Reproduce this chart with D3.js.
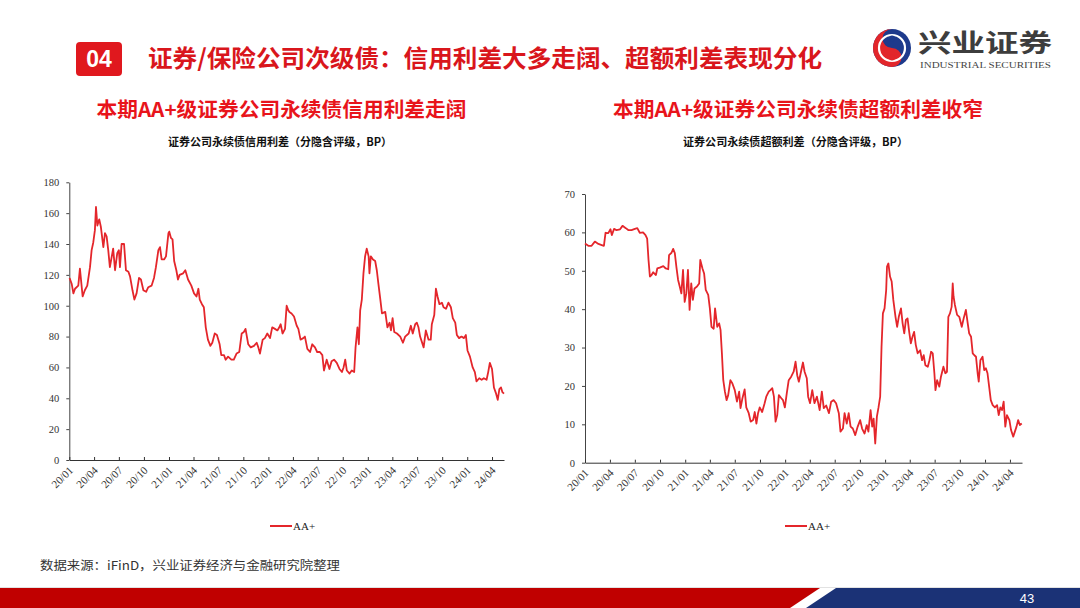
<!DOCTYPE html>
<html><head><meta charset="utf-8">
<script src="https://cdn.jsdelivr.net/npm/d3@7"></script>
<style>body{margin:0;background:#fff;} svg{display:block}</style>
</head><body><svg id="c" width="1080" height="608"></svg>
<script>
// ---------------- data ----------------
const xTickLabels = ['20/01','20/04','20/07','20/10','21/01','21/04','21/07','21/10','22/01','22/04','22/07','22/10','23/01','23/04','23/07','23/10','24/01','24/04'];
const leftYTicks = [0,20,40,60,80,100,120,140,160,180];
const rightYTicks = [0,10,20,30,40,50,60,70];
const seriesName = 'AA+';

const leftDates = ['2020-01-02','2020-01-10','2020-01-16','2020-01-22','2020-02-03','2020-02-09','2020-02-19','2020-02-27','2020-03-07','2020-03-17','2020-03-23','2020-03-29','2020-04-04','2020-04-08','2020-04-13','2020-04-20','2020-04-26','2020-05-05','2020-05-11','2020-05-17','2020-05-23','2020-05-29','2020-06-04','2020-06-10','2020-06-17','2020-06-25','2020-07-01','2020-07-05','2020-07-11','2020-07-20','2020-07-27','2020-08-05','2020-08-11','2020-08-20','2020-08-27','2020-09-04','2020-09-13','2020-09-20','2020-09-29','2020-10-09','2020-10-17','2020-10-29','2020-11-07','2020-11-14','2020-11-23','2020-11-29','2020-12-05','2020-12-14','2020-12-21','2020-12-30','2021-01-02','2021-01-08','2021-01-14','2021-01-20','2021-01-28','2021-02-03','2021-02-09','2021-02-22','2021-03-02','2021-03-12','2021-03-24','2021-04-03','2021-04-12','2021-04-19','2021-04-24','2021-05-02','2021-05-09','2021-05-16','2021-05-24','2021-06-02','2021-06-09','2021-06-18','2021-06-26','2021-07-06','2021-07-12','2021-07-22','2021-07-28','2021-08-06','2021-08-18','2021-08-27','2021-09-06','2021-09-16','2021-09-25','2021-10-03','2021-10-09','2021-10-19','2021-10-28','2021-11-09','2021-11-19','2021-11-25','2021-12-01','2021-12-11','2021-12-19','2021-12-28','2022-01-07','2022-01-15','2022-01-25','2022-02-03','2022-02-10','2022-02-15','2022-02-22','2022-03-03','2022-03-09','2022-03-15','2022-03-19','2022-03-27','2022-04-05','2022-04-15','2022-04-21','2022-04-29','2022-05-09','2022-05-15','2022-05-24','2022-06-03','2022-06-11','2022-06-21','2022-06-29','2022-07-09','2022-07-18','2022-07-24','2022-08-03','2022-08-13','2022-08-21','2022-08-30','2022-09-09','2022-09-19','2022-09-28','2022-10-04','2022-10-10','2022-10-16','2022-10-26','2022-11-03','2022-11-12','2022-11-17','2022-11-24','2022-11-29','2022-12-04','2022-12-10','2022-12-16','2022-12-22','2022-12-28','2023-01-04','2023-01-07','2023-01-12','2023-01-20','2023-01-28','2023-02-03','2023-02-09','2023-02-16','2023-02-22','2023-03-06','2023-03-14','2023-03-22','2023-03-27','2023-04-02','2023-04-08','2023-04-18','2023-04-30','2023-05-10','2023-05-18','2023-05-31','2023-06-08','2023-06-15','2023-06-24','2023-06-30','2023-07-06','2023-07-12','2023-07-25','2023-08-02','2023-08-12','2023-08-20','2023-08-24','2023-09-02','2023-09-08','2023-09-14','2023-09-21','2023-09-30','2023-10-06','2023-10-15','2023-10-24','2023-11-02','2023-11-09','2023-11-18','2023-11-24','2023-12-02','2023-12-11','2023-12-20','2023-12-27','2024-01-02','2024-01-11','2024-01-21','2024-01-29','2024-02-04','2024-02-14','2024-02-23','2024-03-02','2024-03-12','2024-03-18','2024-03-24','2024-04-01','2024-04-08','2024-04-16','2024-04-22','2024-04-28','2024-05-04','2024-05-09','2024-05-15'];
const leftValues = [118,114,108,111,113,124,106,110,113,125,136,141,149,164,152,156,151,138,147,145,136,125,131,137,123,134,136,125,140,140,123,122,119,110,104,108,118,117,110,109,112,113,118,125,136,138,130,130,132,147,148,144,143,129,123,117,120,121,123,117,113,108,106,111,104,101,99,86,78,74,76,82,81,75,68,68,65,67,65,65,69,70,82,83,85,75,73,74,76,73,69,78,79,82,79,86,85,84,86,88,82,85,100,97,96,95,93,87,85,78,79,80,72,70,75,73,70,70,68,58,65,59,64,65,63,59,57,60,65,58,56,58,57,73,86,75,97,104,121,132,137,132,121,132,130,129,123,114,104,95,96,86,89,84,92,83,82,80,76,80,82,87,82,88,89,86,80,73,84,78,78,88,94,111,106,101,102,99,98,102,99,92,89,81,79,80,79,81,71,67,60,57,51,53,52,53,52,57,63,59,47,43,39,46,47,44,43];

const rightDates = ['2020-01-01','2020-01-13','2020-01-25','2020-02-06','2020-02-19','2020-03-02','2020-03-10','2020-03-16','2020-03-26','2020-04-03','2020-04-08','2020-04-16','2020-04-25','2020-05-08','2020-05-17','2020-05-29','2020-06-07','2020-06-19','2020-07-01','2020-07-10','2020-07-19','2020-07-31','2020-08-09','2020-08-15','2020-08-20','2020-08-25','2020-08-31','2020-09-06','2020-09-16','2020-09-21','2020-09-30','2020-10-13','2020-10-22','2020-10-31','2020-11-03','2020-11-12','2020-11-18','2020-11-24','2020-11-30','2020-12-06','2020-12-12','2020-12-18','2020-12-24','2020-12-30','2021-01-05','2021-01-11','2021-01-17','2021-01-23','2021-01-29','2021-02-04','2021-02-13','2021-02-21','2021-02-25','2021-03-05','2021-03-11','2021-03-17','2021-03-26','2021-04-01','2021-04-07','2021-04-15','2021-04-20','2021-04-28','2021-05-05','2021-05-10','2021-05-15','2021-05-20','2021-05-26','2021-06-01','2021-06-07','2021-06-15','2021-06-22','2021-07-01','2021-07-09','2021-07-17','2021-07-22','2021-07-29','2021-08-06','2021-08-12','2021-08-21','2021-08-28','2021-09-06','2021-09-12','2021-09-18','2021-09-24','2021-09-30','2021-10-09','2021-10-18','2021-10-24','2021-11-02','2021-11-08','2021-11-15','2021-11-21','2021-11-27','2021-12-03','2021-12-09','2021-12-18','2021-12-24','2021-12-31','2022-01-07','2022-01-14','2022-01-23','2022-02-01','2022-02-08','2022-02-14','2022-02-20','2022-03-07','2022-03-13','2022-03-21','2022-03-26','2022-04-02','2022-04-10','2022-04-18','2022-04-27','2022-05-07','2022-05-15','2022-05-22','2022-05-31','2022-06-10','2022-06-18','2022-06-27','2022-07-06','2022-07-16','2022-07-22','2022-07-31','2022-08-06','2022-08-14','2022-08-21','2022-08-28','2022-09-05','2022-09-14','2022-09-23','2022-10-02','2022-10-09','2022-10-18','2022-10-26','2022-11-01','2022-11-09','2022-11-15','2022-11-20','2022-11-26','2022-12-02','2022-12-08','2022-12-14','2022-12-19','2022-12-24','2022-12-30','2023-01-05','2023-01-08','2023-01-13','2023-01-19','2023-01-25','2023-01-31','2023-02-08','2023-02-14','2023-02-20','2023-02-28','2023-03-06','2023-03-12','2023-03-18','2023-03-24','2023-03-30','2023-04-05','2023-04-11','2023-04-17','2023-04-23','2023-04-30','2023-05-09','2023-05-16','2023-05-22','2023-05-28','2023-06-06','2023-06-12','2023-06-18','2023-06-24','2023-06-30','2023-07-04','2023-07-10','2023-07-18','2023-07-24','2023-08-02','2023-08-09','2023-08-15','2023-08-20','2023-08-26','2023-09-01','2023-09-05','2023-09-08','2023-09-13','2023-09-21','2023-09-29','2023-10-08','2023-10-15','2023-10-23','2023-10-29','2023-11-04','2023-11-11','2023-11-17','2023-11-23','2023-11-29','2023-12-05','2023-12-09','2023-12-15','2023-12-23','2023-12-29','2024-01-04','2024-01-10','2024-01-16','2024-01-22','2024-01-29','2024-02-06','2024-02-14','2024-02-20','2024-02-26','2024-03-03','2024-03-09','2024-03-15','2024-03-21','2024-03-30','2024-04-05','2024-04-13','2024-04-19','2024-04-25','2024-05-01','2024-05-07','2024-05-14'];
const rightValues = [57.1,56.5,56.5,57.6,57.0,56.7,56.5,59.9,59.8,60.8,59.3,60.9,60.6,60.8,61.7,61.1,60.6,60.6,60.9,61.1,59.9,60.0,59.3,58.4,52.8,48.5,48.9,49.6,48.9,50.6,50.8,51.2,50.6,50.4,54.1,54.7,55.7,54.6,50.9,47.6,45.9,44.1,50.2,41.9,44.1,50.2,39.8,46.7,42.4,45.4,45.9,46.7,52.8,50.6,49.3,45.0,43.7,40.2,35.4,34.9,40.2,35.4,36.3,34.6,28.5,21.5,18.5,16.3,17.6,21.5,20.7,18.9,15.9,18.5,14.2,16.8,19.1,14.4,12.9,10.7,11.1,13.2,10.2,12.9,14.4,13.2,15.5,17.2,18.5,18.9,19.4,17.2,10.7,12.4,17.6,16.8,16.3,14.4,18.1,21.5,22.4,23.7,26.3,22.8,21.1,26.1,23.7,22.0,17.2,15.5,18.9,15.5,17.2,13.7,18.5,14.2,14.9,12.9,15.9,16.3,15.5,12.9,8.1,8.9,12.9,10.2,12.9,9.4,8.9,7.2,9.4,11.1,8.9,7.6,9.8,8.1,13.7,9.4,11.5,5.0,12.0,14.4,17.2,30.2,38.9,40.2,45.0,51.1,51.9,48.5,47.2,42.4,38.0,35.4,38.0,40.2,36.3,33.7,37.2,37.6,34.1,31.1,32.8,34.1,30.7,28.5,29.3,26.7,28.0,25.4,25.0,26.7,28.9,28.5,23.3,18.9,21.5,19.8,22.4,25.0,23.3,23.7,38.0,38.9,40.6,46.7,43.3,41.1,38.5,38.0,35.4,37.6,39.8,36.7,33.7,32.8,28.5,28.0,27.6,23.3,21.1,26.7,27.6,24.1,24.6,23.3,19.8,16.3,15.0,14.4,15.0,12.4,14.4,13.7,15.9,9.4,12.4,11.1,8.5,6.8,8.1,9.4,11.1,9.8,10.2];

// ---------------- drawing ----------------
const svg = d3.select('#c');
const RED = '#e4262b';
const parseDay = d3.timeParse('%Y-%m-%d');
const parseTick = d3.timeParse('%y/%m');
const tickDates = xTickLabels.map(parseTick);
const domainX = [new Date(2020,0,1), new Date(2024,4,15)];
const SERIF = '"Liberation Serif","Times New Roman",serif';
const CJK = '"Noto Sans CJK SC","Noto Sans",sans-serif';

function drawChart(o) {
  const x = d3.scaleTime().domain(domainX).range([o.x0, o.x1]);
  const y = d3.scaleLinear().domain([0, o.yMax]).range([o.y0, o.y1]);
  const g = svg.append('g');

  const ya = g.append('g').attr('transform', `translate(${o.x0},0)`)
    .call(d3.axisLeft(y).tickValues(o.yTicks).tickSize(3).tickSizeOuter(0).tickPadding(7));
  ya.select('.domain').attr('stroke', '#444');
  ya.selectAll('.tick line').attr('stroke', '#444');
  ya.selectAll('text').attr('font-family', SERIF).attr('font-size', 10.5).attr('fill', '#333');

  const xa = g.append('g').attr('transform', `translate(0,${o.y0})`)
    .call(d3.axisBottom(x).tickValues(tickDates).tickSize(-3).tickSizeOuter(0)
      .tickFormat((d, i) => xTickLabels[i]));
  xa.select('.domain').attr('stroke', '#333');
  xa.selectAll('.tick line').attr('stroke', '#333');
  xa.selectAll('text').attr('y', null).attr('dy', null).attr('x', null)
    .attr('transform', 'translate(4,11) rotate(-45)')
    .style('text-anchor', 'end')
    .attr('font-family', SERIF).attr('font-size', 11).attr('fill', '#333');

  const data = o.dates.map((d, i) => ({date: parseDay(d), v: o.values[i]}));
  g.append('path').datum(data)
    .attr('fill', 'none').attr('stroke', RED).attr('stroke-width', 1.8)
    .attr('stroke-linejoin', 'round')
    .attr('d', d3.line().x(d => x(d.date)).y(d => y(d.v)));

  // legend
  g.append('line').attr('x1', o.legendX).attr('x2', o.legendX + 22)
    .attr('y1', 526).attr('y2', 526).attr('stroke', RED).attr('stroke-width', 2);
  g.append('text').attr('x', o.legendX + 23).attr('y', 530)
    .attr('font-family', SERIF).attr('font-size', 11).attr('fill', '#222').text(seriesName);

  // titles
  g.append('text').attr('x', o.tcx).attr('y', 117).attr('text-anchor', 'middle')
    .attr('font-family', CJK).attr('font-weight', 700).attr('font-size', 20).attr('fill', '#e8141b')
    .attr('textLength', o.tw).attr('lengthAdjust', 'spacingAndGlyphs').text(o.title);
  g.append('text').attr('x', o.scx).attr('y', 146).attr('text-anchor', 'middle')
    .attr('font-family', CJK).attr('font-weight', 700).attr('font-size', 11).attr('fill', '#111')
    .attr('textLength', o.sw).attr('lengthAdjust', 'spacingAndGlyphs').text(o.sub);
}

drawChart({x0: 69.3, x1: 504, y0: 460, y1: 182.3, yMax: 180, yTicks: leftYTicks,
  dates: leftDates, values: leftValues, legendX: 270,
  tcx: 281.5, tw: 370, title: '本期AA+级证券公司永续债信用利差走阔',
  scx: 280, sw: 224, sub: '证券公司永续债信用利差（分隐含评级，BP）'});
drawChart({x0: 585, x1: 1022, y0: 462.7, y1: 194, yMax: 70, yTicks: rightYTicks,
  dates: rightDates, values: rightValues, legendX: 785,
  tcx: 798, tw: 370, title: '本期AA+级证券公司永续债超额利差收窄',
  scx: 795.5, sw: 225, sub: '证券公司永续债超额利差（分隐含评级，BP）'});

// header
svg.append('rect').attr('x', 76).attr('y', 42).attr('width', 46).attr('height', 34).attr('rx', 4).attr('fill', '#e0181e');
svg.append('text').attr('x', 99).attr('y', 67).attr('text-anchor', 'middle')
  .attr('font-family', '"Liberation Sans",Arial,sans-serif').attr('font-weight', 700).attr('font-size', 23).attr('fill', '#fff').text('04');
svg.append('text').attr('x', 148).attr('y', 67)
  .attr('font-family', CJK).attr('font-weight', 700).attr('font-size', 24).attr('fill', '#d9161c')
  .attr('textLength', 674).attr('lengthAdjust', 'spacingAndGlyphs')
  .text('证券/保险公司次级债：信用利差大多走阔、超额利差表现分化');

// logo
const lg = svg.append('g').attr('transform', 'translate(892,48)');
lg.append('circle').attr('r', 19).attr('fill', '#1d3a8c');
lg.append('path').attr('fill', '#e2262b')
  .attr('d', 'M0,-19 A19,19 0 0 0 0,19 A9.5,9.5 0 0 0 0,0 A9.5,9.5 0 0 1 0,-19 Z');
lg.append('circle').attr('r', 13).attr('fill', 'none').attr('stroke', '#fff').attr('stroke-width', 2.2);
lg.append('circle').attr('cy', -9.5).attr('r', 3).attr('fill', '#1d3a8c');
lg.append('circle').attr('cy', 9.5).attr('r', 3).attr('fill', '#e2262b');
svg.append('text').attr('x', 918).attr('y', 52)
  .attr('font-family', CJK).attr('font-weight', 700).attr('font-size', 25).attr('fill', '#3d3d3d')
  .attr('textLength', 134).attr('lengthAdjust', 'spacingAndGlyphs').text('兴业证券');
svg.append('text').attr('x', 920).attr('y', 68)
  .attr('font-family', SERIF).attr('font-size', 8).attr('fill', '#444')
  .attr('textLength', 131).attr('lengthAdjust', 'spacingAndGlyphs').text('INDUSTRIAL SECURITIES');

// footer
svg.append('text').attr('x', 40).attr('y', 570)
  .attr('font-family', CJK).attr('font-size', 12).attr('fill', '#333')
  .attr('textLength', 300).attr('lengthAdjust', 'spacingAndGlyphs')
  .text('数据来源：iFinD，兴业证券经济与金融研究院整理');
svg.append('line').attr('x1', 0).attr('x2', 1080).attr('y1', 587.5).attr('y2', 587.5).attr('stroke', '#e2e2e2');
svg.append('polygon').attr('points', '0,588 820,588 790,608 0,608').attr('fill', '#c00000');
svg.append('polygon').attr('points', '836,588 1080,588 1080,608 806,608').attr('fill', '#1b3276');
svg.append('text').attr('x', 1027).attr('y', 603).attr('text-anchor', 'middle')
  .attr('font-family', '"Liberation Sans",Arial,sans-serif').attr('font-size', 13).attr('fill', '#fff').text('43');
</script></body></html>
